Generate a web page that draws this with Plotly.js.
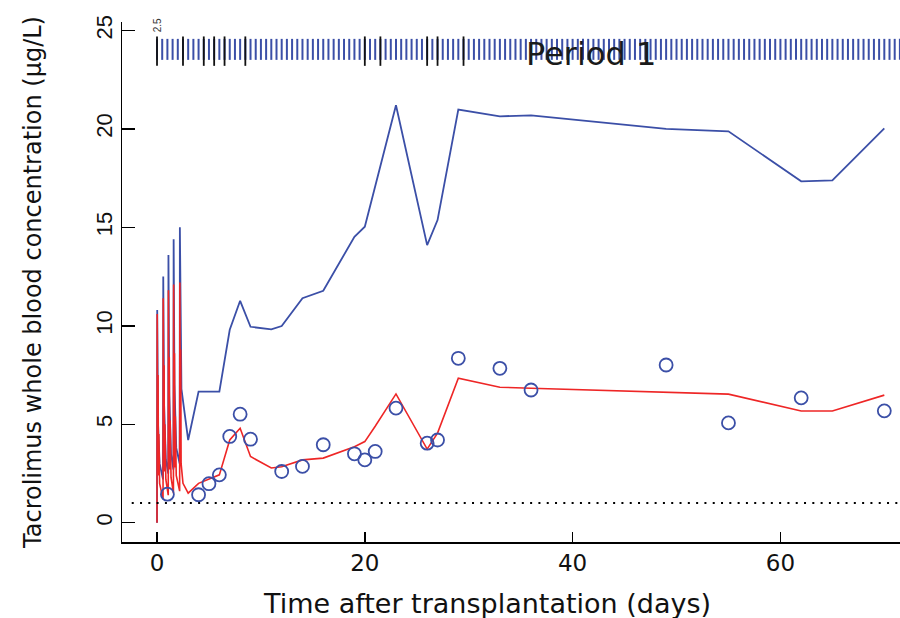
<!DOCTYPE html>
<html><head><meta charset="utf-8">
<script src="https://cdn.plot.ly/plotly-3.0.1.min.js"></script>
<style>html,body{margin:0;padding:0;background:#fff}</style>
</head><body><div id="chart" style="width:900px;height:618px"></div>
<script>
// Upper prediction (blue line)
const upperT = [0,0.02,0.1,0.25,0.58,0.6,0.68,0.85,1.08,1.1,1.18,1.35,1.58,1.6,1.68,1.85,2.18,2.2,2.35,3,4,6,7,8,9,11,12,14,16,19,20,23,26,27,29,33,36,49,55,62,65,70];
const upperC = [0,10.8,5.0,3.0,2.2,12.5,6.0,3.2,2.5,13.6,6.5,3.5,2.7,14.4,7.0,3.8,3.0,15.0,6.8,4.2,6.66,6.66,9.8,11.27,9.95,9.82,9.99,11.4,11.78,14.52,15.03,21.2,14.1,15.37,20.98,20.64,20.69,20.0,19.88,17.34,17.39,20.03];
// Individual prediction (red line)
const predT = [0,0.02,0.06,0.1,0.14,0.18,0.25,0.58,0.6,0.64,0.68,0.72,0.76,0.85,1.08,1.1,1.14,1.18,1.22,1.26,1.35,1.58,1.6,1.64,1.68,1.72,1.76,1.85,2.18,2.2,2.24,2.28,2.32,2.5,3,4,6,7,8,9,11,12,14,16,19,20,21,23,26,27,29,33,36,49,55,62,65,70];
const predC = [0,10.6,3.0,7.5,2.4,4.5,2.0,1.2,11.4,3.2,8.0,2.6,5.0,2.2,1.4,11.8,3.4,8.4,2.7,5.2,2.3,1.5,12.1,3.5,8.6,2.8,5.4,2.4,1.6,12.2,3.6,8.8,3.0,2.0,1.5,2.0,2.43,4.2,4.8,3.36,2.78,2.84,3.19,3.28,3.86,4.12,4.9,6.54,3.74,4.55,7.34,6.88,6.83,6.6,6.53,5.67,5.67,6.48];
// Observed concentrations (circles)
const obsT = [1,4,5,6,7,8,9,12,14,16,19,20,21,23,26,27,29,33,36,49,55,62,70];
const obsC = [1.45,1.42,1.98,2.43,4.38,5.51,4.24,2.6,2.86,3.96,3.5,3.19,3.62,5.82,4.04,4.2,8.35,7.84,6.74,8.01,5.07,6.34,5.68];
// Dosing times (blue rug) and dose changes (black rug)
const doseT = [0,0.5,1,1.5,2,2.5,3,3.5,4,4.5,5,5.5,6,6.5,7,7.5,8,8.5,9,9.5,10,10.5,11,11.5,12,12.5,13,13.5,14,14.5,15,15.5,16,16.5,17,17.5,18,18.5,19,19.5,20,20.5,21,21.5,22,22.5,23,23.5,24,24.5,25,25.5,26,26.5,27,27.5,28,28.5,29,29.5,30,30.5,31,31.5,32,32.5,33,33.5,34,34.5,35,35.5,36,36.5,37,37.5,38,38.5,39,39.5,40,40.5,41,41.5,42,42.5,43,43.5,44,44.5,45,45.5,46,46.5,47,47.5,48,48.5,49,49.5,50,50.5,51,51.5,52,52.5,53,53.5,54,54.5,55,55.5,56,56.5,57,57.5,58,58.5,59,59.5,60,60.5,61,61.5,62,62.5,63,63.5,64,64.5,65,65.5,66,66.5,67,67.5,68,68.5,69,69.5,70,70.5,71,71.5];
const doseChangeT = [0,2.5,4.5,5.5,6.5,8.5,20,21.5,26,27,29.5];
const rugLevel = 24.04;
const rugLevelChange = 23.95;
const lloq = 1;
const xTicks = [0,20,40,60];
const yTicks = [0,5,10,15,20,25];
const firstDoseLabel = "2.5";
const periodLabel = "Period 1";
const xTitle = "Time after transplantation (days)";
const yTitle = "Tacrolimus whole blood concentration (μg/L)";

const BLUE = '#3b4fa7', RED = '#ee2626';

const traces = [
  {x: doseT, y: doseT.map(() => rugLevel), mode: 'markers', type: 'scatter', hoverinfo: 'skip',
   marker: {symbol: 'line-ns-open', size: 15, color: BLUE, line: {color: BLUE, width: 2}}},
  {x: doseChangeT, y: doseChangeT.map(() => rugLevelChange), mode: 'markers', type: 'scatter', hoverinfo: 'skip',
   marker: {symbol: 'line-ns-open', size: 21, color: '#111', line: {color: '#111', width: 1.8}}},
  {x: upperT, y: upperC, mode: 'lines', type: 'scatter', line: {color: BLUE, width: 1.8}},
  {x: predT, y: predC, mode: 'lines', type: 'scatter', line: {color: RED, width: 1.6}},
  {x: obsT, y: obsC, mode: 'markers', type: 'scatter',
   marker: {symbol: 'circle-open', size: 13, color: BLUE, line: {color: BLUE, width: 1.8}}}
];

const layout = {
  width: 900, height: 618,
  margin: {l: 122, r: 0, t: 22, b: 76},
  paper_bgcolor: '#fff', plot_bgcolor: '#fff',
  showlegend: false,
  xaxis: {
    range: [-3.37, 71.51], showgrid: false, zeroline: false,
    showline: true, linecolor: '#000', linewidth: 1.5,
    ticks: 'inside', ticklen: 10, tickwidth: 1.5, tickcolor: '#000',
    tickvals: xTicks, ticktext: xTicks.map(String),
    tickfont: {family: 'DejaVu Sans', size: 23, color: '#111'}
  },
  yaxis: {
    range: [-0.98, 25.43], showgrid: false, zeroline: false,
    showline: true, linecolor: '#000', linewidth: 1.5,
    ticks: 'inside', ticklen: 13, tickwidth: 1.5, tickcolor: '#000',
    tickvals: yTicks, ticktext: yTicks.map(String), tickangle: -90,
    tickfont: {family: 'Liberation Sans', size: 22, color: '#111'},
    title: {text: yTitle, font: {family: 'DejaVu Sans', size: 24, color: '#111'}, standoff: 43}
  },
  shapes: [
    {type: 'line', xref: 'paper', x0: 0.0125, x1: 1, yref: 'y', y0: lloq, y1: lloq,
     line: {color: '#000', width: 2, dash: '2px,6.3px'}}
  ],
  annotations: [
    {x: 0.469, y: -0.119, xref: 'paper', yref: 'paper', text: xTitle, showarrow: false,
     xanchor: 'center', yanchor: 'middle',
     font: {family: 'DejaVu Sans', size: 27, color: '#111'}},
    {x: 0, y: 25.26, xref: 'x', yref: 'y', text: firstDoseLabel, showarrow: false, textangle: -90,
     font: {family: 'Liberation Sans', size: 10, color: '#333'}},
    {x: 41.8, y: 23.8, xref: 'x', yref: 'y', text: periodLabel, showarrow: false,
     font: {family: 'DejaVu Sans', size: 32, color: '#1a1a1a'}}
  ]
};

Plotly.newPlot('chart', traces, layout, {staticPlot: true, displayModeBar: false});
</script></body></html>
